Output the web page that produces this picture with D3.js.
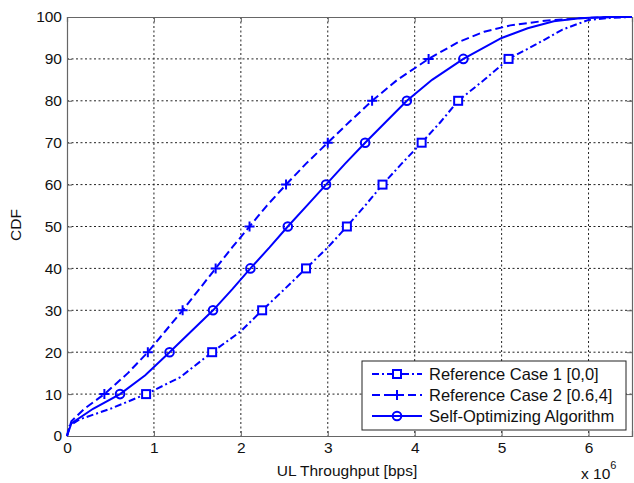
<!DOCTYPE html>
<html><head><meta charset="utf-8">
<script src="https://cdn.jsdelivr.net/npm/d3@7/dist/d3.min.js"></script>
<style>body{margin:0;background:#fff}svg{display:block;font-family:"Liberation Sans",Arial,sans-serif}</style>
</head><body><svg id="c" width="634" height="483"></svg>
<script>
// throughput in units of 1e6 bps, CDF in percent
const case1X = [0,0.03,0.15,0.5,0.91,1.3,1.67,2.0,2.245,2.5,2.75,3.0,3.22,3.43,3.63,3.85,4.08,4.3,4.5,4.8,5.08,5.4,5.7,6.0,6.25,6.5];
const case1Y = [0,2.5,4,6.5,10,14,20,25,30,35,40,45,50,55,60,65,70,75,80,85,90,93.5,97,99.3,99.8,100];
const case2X = [0,0.05,0.2,0.43,0.7,0.93,1.13,1.33,1.52,1.71,1.9,2.10,2.3,2.52,2.75,3.0,3.25,3.51,3.8,4.16,4.5,4.8,5.1,5.5,5.9,6.3,6.5];
const case2Y = [0,3.5,6.5,10,15,20,25,30,35,40,45,50,55,60,65,70,75,80,85,90,94,96.5,98,99.1,99.7,100,100];
const selfX = [0,0.05,0.3,0.61,0.9,1.18,1.43,1.68,1.9,2.11,2.33,2.54,2.76,2.98,3.2,3.43,3.67,3.91,4.2,4.56,5.0,5.3,5.6,5.9,6.2,6.5];
const selfY = [0,3,6.5,10,14.5,20,25,30,35,40,45,50,55,60,65,70,75,80,85,90,95,97.3,99,99.7,100,100];
const markerLevels = [10,20,30,40,50,60,70,80,90];
const xTicks = [0,1,2,3,4,5,6];
const yTicks = [0,10,20,30,40,50,60,70,80,90,100];
const seriesNames = ["Reference Case 1 [0,0]","Reference Case 2 [0.6,4]","Self-Optimizing Algorithm"];

const series = [
  {name:seriesNames[0], xs:case1X, ys:case1Y, dash:"7,3,2,3", marker:"square"},
  {name:seriesNames[1], xs:case2X, ys:case2Y, dash:"8,4", marker:"plus"},
  {name:seriesNames[2], xs:selfX, ys:selfY, dash:null, marker:"circle"}
];

const svg = d3.select("#c");
const L=67, R=632, T=17, B=436;
const x = d3.scaleLinear().domain([0,6.5]).range([L,R]);
const y = d3.scaleLinear().domain([0,100]).range([B,T]);
const blue="#0000ff";

// grid
const g = svg.append("g");
g.selectAll(".gx").data(xTicks.filter(d=>d>0)).join("line")
  .attr("x1",d=>x(d)).attr("x2",d=>x(d)).attr("y1",T).attr("y2",B)
  .attr("stroke","#222").attr("stroke-width",1).attr("stroke-dasharray","2,2.5");
g.selectAll(".gy").data(yTicks.filter(d=>d>0&&d<100)).join("line")
  .attr("x1",L).attr("x2",R).attr("y1",d=>y(d)).attr("y2",d=>y(d))
  .attr("stroke","#222").attr("stroke-width",1).attr("stroke-dasharray","2,2.5");

// axes
const ax = svg.append("g").attr("transform",`translate(0,${B})`)
  .call(d3.axisBottom(x).tickValues(xTicks).tickSize(-5).tickPadding(6).tickFormat(d3.format("d")));
const ay = svg.append("g").attr("transform",`translate(${L},0)`)
  .call(d3.axisLeft(y).tickValues(yTicks).tickSize(-5).tickPadding(5).tickFormat(d3.format("d")));
const axTop = svg.append("g").attr("transform",`translate(0,${T})`)
  .call(d3.axisTop(x).tickValues(xTicks).tickSize(-5).tickFormat(""));
const ayR = svg.append("g").attr("transform",`translate(${R},0)`)
  .call(d3.axisRight(y).tickValues(yTicks).tickSize(-5).tickFormat(""));
[ax,ay,axTop,ayR].forEach(a=>{
  a.select(".domain").attr("stroke","#666").attr("stroke-width",1.2);
  a.selectAll(".tick line").attr("stroke","#666");
  a.selectAll(".tick text").attr("fill","#111").attr("font-size",15.5).attr("font-family","Liberation Sans, Arial, sans-serif");
});

// lines
const line = d3.line().x(d=>x(d[0])).y(d=>y(d[1]));
function drawMarker(sel, type, cx, cy){
  if(type==="square"){
    sel.append("rect").attr("x",cx-4).attr("y",cy-4).attr("width",8).attr("height",8)
      .attr("fill","#fff").attr("stroke",blue).attr("stroke-width",2);
  } else if(type==="circle"){
    sel.append("circle").attr("cx",cx).attr("cy",cy).attr("r",4.3)
      .attr("fill","none").attr("stroke",blue).attr("stroke-width",2);
  } else {
    sel.append("path").attr("d",`M${cx-5},${cy}H${cx+5}M${cx},${cy-5}V${cy+5}`)
      .attr("stroke",blue).attr("stroke-width",2);
  }
}
series.forEach(s=>{
  const pts = s.xs.map((v,i)=>[v,s.ys[i]]);
  svg.append("path").datum(pts).attr("d",line).attr("fill","none")
    .attr("stroke",blue).attr("stroke-width",2)
    .attr("stroke-dasharray",s.dash);
  const mg = svg.append("g");
  markerLevels.forEach(lv=>{
    const i = s.ys.indexOf(lv);
    drawMarker(mg, s.marker, x(s.xs[i]), y(lv));
  });
});

// labels
svg.append("text").attr("x",347).attr("y",476).attr("text-anchor","middle")
  .attr("font-size",15.5).attr("fill","#111").text("UL Throughput [bps]");
svg.append("text").attr("transform","translate(21,225) rotate(-90)").attr("text-anchor","middle")
  .attr("font-size",15.5).attr("fill","#111").text("CDF");
const ex = svg.append("text").attr("x",581).attr("y",479).attr("font-size",15.5).attr("fill","#111");
ex.append("tspan").text("x 10");
ex.append("tspan").attr("font-size",11).attr("dy",-10).text("6");

// legend
const lg = svg.append("g");
lg.append("rect").attr("x",362).attr("y",361).attr("width",264).attr("height",69)
  .attr("fill","#fff").attr("stroke","#222").attr("stroke-width",1);
const ly=[374,395,416];
series.forEach((s,i)=>{
  lg.append("line").attr("x1",372).attr("x2",422).attr("y1",ly[i]).attr("y2",ly[i])
    .attr("stroke",blue).attr("stroke-width",2).attr("stroke-dasharray",s.dash);
  drawMarker(lg, s.marker, 397, ly[i]);
  lg.append("text").attr("x",429).attr("y",ly[i]+5.5).attr("font-size",16.5).attr("fill","#111").text(s.name);
});
</script></body></html>
